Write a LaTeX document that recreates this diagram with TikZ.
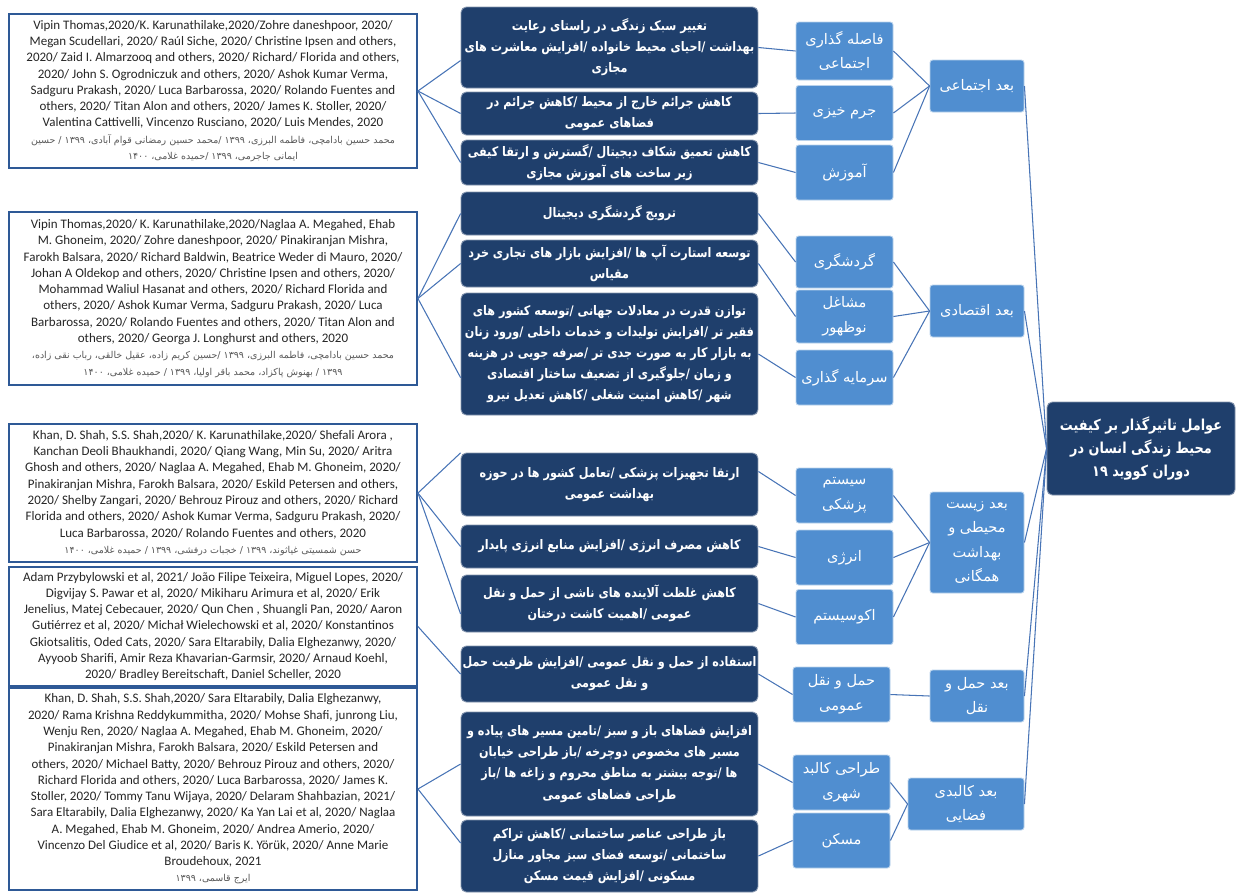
\documentclass[tikz,border=0pt]{standalone}
\usepackage{fontspec}
\setmainfont{Carlito}
\newfontfamily\farsi[Script=Arabic]{DejaVu Sans}
\newfontfamily\farsib[Script=Arabic, FakeStretch=0.85]{DejaVu Sans Bold}
\TeXXeTstate=1
\newcommand{\rl}[1]{{\farsi\beginR #1\endR}}
\newcommand{\rlb}[1]{{\farsib\beginR #1\endR}}
\newcommand{\rlref}[1]{{\farsi\fontsize{5.4}{9.25}\selectfont\color{black!65}\beginR #1\endR}}
\definecolor{navybox}{RGB}{31,63,108}
\definecolor{skybox}{RGB}{80,142,208}
\definecolor{refblue}{RGB}{46,89,150}
\definecolor{linkblue}{RGB}{72,116,182}

\begin{document}
\begin{tikzpicture}[x=0.02cm,y=-0.02cm]
		\tikzstyle{refbox}=[draw=refblue, line width=1.1pt, fill=white, minimum width=8.16cm, inner sep=0pt, align=center, text=black!85, font=\fontsize{7.4}{9.25}\selectfont];
		\tikzstyle{darkbox}=[fill=navybox, draw=navybox!55!white, line width=0.5pt, rounded corners=3pt, minimum width=5.94cm, inner sep=0pt, align=center, text=white, font=\fontsize{7.5}{12}\selectfont];
		\tikzstyle{lightbox}=[fill=skybox, draw=skybox!40!white, line width=0.5pt, rounded corners=1.5pt, minimum width=1.94cm, minimum height=1.1cm, inner sep=0pt, align=center, text=white, font=\fontsize{8.3}{14}\selectfont];
		\tikzstyle{dimbox}=[lightbox, minimum width=1.88cm, minimum height=1.04cm];
		\tikzstyle{link}=[draw=linkblue, line width=0.6pt];

		\useasboundingbox (0,0) rectangle (1240,894);

		% reference boxes
		\node[refbox, minimum height=3.08cm] (L1) at (213,91) {Vipin Thomas,2020/K. Karunathilake,2020/Zohre daneshpoor, 2020/\\
Megan Scudellari, 2020/ Raúl Siche, 2020/ Christine Ipsen and others,\\
2020/ Zaid I. Almarzooq and others, 2020/ Richard/ Florida and others,\\
2020/ John S. Ogrodniczuk and others, 2020/ Ashok Kumar Verma,\\
Sadguru Prakash, 2020/ Luca Barbarossa, 2020/ Rolando Fuentes and\\
others, 2020/ Titan Alon and others, 2020/ James K. Stoller, 2020/\\
Valentina Cattivelli, Vincenzo Rusciano, 2020/ Luis Mendes, 2020\\
\rlref{محمد حسین بادامچی، فاطمه البرزی، ۱۳۹۹ /محمد حسین رمضانی قوام آبادی، ۱۳۹۹ / حسین}\\
\rlref{ایمانی جاجرمی، ۱۳۹۹ /حمیده غلامی، ۱۴۰۰}};
		\node[refbox, minimum height=3.46cm] (L2) at (213,298.5) {Vipin Thomas,2020/ K. Karunathilake,2020/Naglaa A. Megahed, Ehab\\
M. Ghoneim, 2020/ Zohre daneshpoor, 2020/ Pinakiranjan Mishra,\\
Farokh Balsara, 2020/ Richard Baldwin, Beatrice Weder di Mauro, 2020/\\
Johan A Oldekop and others, 2020/ Christine Ipsen and others, 2020/\\
Mohammad Waliul Hasanat and others, 2020/ Richard Florida and\\
others, 2020/ Ashok Kumar Verma, Sadguru Prakash, 2020/ Luca\\
Barbarossa, 2020/ Rolando Fuentes and others, 2020/ Titan Alon and\\
others, 2020/ Georga J. Longhurst and others, 2020\\
\rlref{محمد حسین بادامچی، فاطمه البرزی، ۱۳۹۹ /حسین کریم زاده، عقیل خالقی، رباب نقی زاده،}\\
\rlref{۱۳۹۹ / بهنوش پاکزاد، محمد باقر اولیا، ۱۳۹۹ / حمیده غلامی، ۱۴۰۰}};
		\node[refbox, minimum height=2.76cm] (L3) at (213,493) {Khan, D. Shah, S.S. Shah,2020/ K. Karunathilake,2020/ Shefali Arora ,\\
Kanchan Deoli Bhaukhandi, 2020/ Qiang Wang, Min Su, 2020/ Aritra\\
Ghosh and others, 2020/ Naglaa A. Megahed, Ehab M. Ghoneim, 2020/\\
Pinakiranjan Mishra, Farokh Balsara, 2020/ Eskild Petersen and others,\\
2020/ Shelby Zangari, 2020/ Behrouz Pirouz and others, 2020/ Richard\\
Florida and others, 2020/ Ashok Kumar Verma, Sadguru Prakash, 2020/\\
Luca Barbarossa, 2020/ Rolando Fuentes and others, 2020\\
\rlref{حسن شمسیتی غیاثوند، ۱۳۹۹ / خجبات درفشی، ۱۳۹۹ / حمیده غلامی، ۱۴۰۰}};
		\node[refbox, minimum height=2.38cm] (L4) at (213,626.5) {Adam Przybylowski et al, 2021/ João Filipe Teixeira, Miguel Lopes, 2020/\\
Digvijay S. Pawar et al, 2020/ Mikiharu Arimura et al, 2020/ Erik\\
Jenelius, Matej Cebecauer, 2020/ Qun Chen , Shuangli Pan, 2020/ Aaron\\
Gutiérrez et al, 2020/ Michał Wielechowski et al, 2020/ Konstantinos\\
Gkiotsalitis, Oded Cats, 2020/ Sara Eltarabily, Dalia Elghezanwy, 2020/\\
Ayyoob Sharifi, Amir Reza Khavarian-Garmsir, 2020/ Arnaud Koehl,\\
2020/ Bradley Bereitschaft, Daniel Scheller, 2020};
		\node[refbox, minimum height=4.04cm] (L5) at (213,789) {Khan, D. Shah, S.S. Shah,2020/ Sara Eltarabily, Dalia Elghezanwy,\\
2020/ Rama Krishna Reddykummitha, 2020/ Mohse Shafi, junrong Liu,\\
Wenju Ren, 2020/ Naglaa A. Megahed, Ehab M. Ghoneim, 2020/\\
Pinakiranjan Mishra, Farokh Balsara, 2020/ Eskild Petersen and\\
others, 2020/ Michael Batty, 2020/ Behrouz Pirouz and others, 2020/\\
Richard Florida and others, 2020/ Luca Barbarossa, 2020/ James K.\\
Stoller, 2020/ Tommy Tanu Wijaya, 2020/ Delaram Shahbazian, 2021/\\
Sara Eltarabily, Dalia Elghezanwy, 2020/ Ka Yan Lai et al, 2020/ Naglaa\\
A. Megahed, Ehab M. Ghoneim, 2020/ Andrea Amerio, 2020/\\
Vincenzo Del Giudice et al, 2020/ Baris K. Yörük, 2020/ Anne Marie\\
Broudehoux, 2021\\
\rlref{ایرج قاسمی، ۱۳۹۹}};

		% effects
		\node[darkbox, minimum height=1.62cm] (M1) at (609.5,47.5) {\rlb{تغییر سبک زندگی در راستای رعایت}\\ \rlb{بهداشت /احیای محیط خانواده /افزایش معاشرت های}\\ \rlb{مجازی}};
		\node[darkbox, minimum height=0.86cm] (M2) at (609.5,113.5) {\rlb{کاهش جرائم خارج از محیط /کاهش جرائم در}\\ \rlb{فضاهای عمومی}};
		\node[darkbox, minimum height=0.90cm] (M3) at (609.5,162.5) {\rlb{کاهش تعمیق شکاف دیجیتال /گسترش و ارتقا کیفی}\\ \rlb{زیر ساخت های آموزش مجازی}};
		\node[darkbox, minimum height=0.86cm] (M4) at (609.5,213.5) {\rlb{ترویج گردشگری دیجیتال}};
		\node[darkbox, minimum height=0.94cm] (M5) at (609.5,263.5) {\rlb{توسعه استارت آپ ها /افزایش بازار های تجاری خرد}\\ \rlb{مقیاس}};
		\node[darkbox, minimum height=2.44cm] (M6) at (609.5,354) {\rlb{توازن قدرت در معادلات جهانی /توسعه کشور های}\\ \rlb{فقیر تر /افزایش تولیدات و خدمات داخلی /ورود زنان}\\ \rlb{به بازار کار به صورت جدی تر /صرفه جویی در هزینه}\\ \rlb{و زمان /جلوگیری از تضعیف ساختار اقتصادی}\\ \rlb{شهر /کاهش امنیت شغلی /کاهش تعدیل نیرو}};
		\node[darkbox, minimum height=1.26cm] (M7) at (609.5,484.5) {\rlb{ارتقا تجهیزات پزشکی /تعامل کشور ها در حوزه}\\ \rlb{بهداشت عمومی}};
		\node[darkbox, minimum height=0.86cm] (M8) at (609.5,546.5) {\rlb{کاهش مصرف انرژی /افزایش منابع انرژی پایدار}};
		\node[darkbox, minimum height=1.14cm] (M9) at (609.5,603.5) {\rlb{کاهش غلظت آلاینده های ناشی از حمل و نقل}\\ \rlb{عمومی /اهمیت کاشت درختان}};
		\node[darkbox, minimum height=1.12cm] (M10) at (609.5,674) {\rlb{استفاده از حمل و نقل عمومی /افزایش ظرفیت حمل}\\ \rlb{و نقل عمومی}};
		\node[darkbox, minimum height=2.08cm] (M11) at (609.5,764) {\rlb{افزایش فضاهای باز و سبز /تامین مسیر های پیاده و}\\ \rlb{مسیر های مخصوص دوچرخه /باز طراحی خیابان}\\ \rlb{ها /توجه بیشتر به مناطق محروم و زاغه ها /باز}\\ \rlb{طراحی فضاهای عمومی}};
		\node[darkbox, minimum height=1.44cm] (M12) at (609.5,856) {\rlb{باز طراحی عناصر ساختمانی /کاهش تراکم}\\ \rlb{ساختمانی /توسعه فضای سبز مجاور منازل}\\ \rlb{مسکونی /افزایش قیمت مسکن}};

		% factors
		\node[lightbox, minimum height=1.16cm] (S1) at (844.5,51) {\rl{فاصله گذاری}\\ \rl{اجتماعی}};
		\node[lightbox] (S2) at (844.5,113) {\rl{جرم خیزی}};
		\node[lightbox] (S3) at (844.5,172.5) {\rl{آموزش}};
		\node[lightbox, minimum height=1.04cm] (S4) at (844.5,262) {\rl{گردشگری}};
		\node[lightbox, minimum height=1.06cm] (S5) at (844.5,316.5) {\rl{مشاغل}\\ \rl{نوظهور}};
		\node[lightbox] (S6) at (844.5,377.5) {\rl{سرمایه گذاری}};
		\node[lightbox] (S7) at (844.5,495.5) {\rl{سیستم}\\ \rl{پزشکی}};
		\node[lightbox] (S8) at (844.5,557.5) {\rl{انرژی}};
		\node[lightbox] (S9) at (844.5,617) {\rl{اکوسیستم}};
		\node[lightbox] (S10) at (841.5,694.5) {\rl{حمل و نقل}\\ \rl{عمومی}};
		\node[lightbox] (S11) at (841.5,782.5) {\rl{طراحی کالبد}\\ \rl{شهری}};
		\node[lightbox] (S12) at (841.5,840.5) {\rl{مسکن}};

		% dimensions
		\node[dimbox] (D1) at (977,86) {\rl{بعد اجتماعی}};
		\node[dimbox] (D2) at (977,311) {\rl{بعد اقتصادی}};
		\node[dimbox, minimum height=2.02cm] (D3) at (977,542.5) {\rl{بعد زیست}\\ \rl{محیطی و}\\ \rl{بهداشت}\\ \rl{همگانی}};
		\node[dimbox] (D4) at (977,696) {\rl{بعد حمل و}\\ \rl{نقل}};
		\node[dimbox, minimum width=2.32cm] (D5) at (966,804) {\rl{بعد کالبدی}\\ \rl{فضایی}};

		\node[darkbox, minimum width=3.76cm, minimum height=1.86cm, font=\fontsize{8.6}{13}\selectfont] (R) at (1141,448.5) {\rlb{عوامل تاثیرگذار بر کیفیت}\\ \rlb{محیط زندگی انسان در}\\ \rlb{دوران کووید ۱۹}};

		\draw[link] (L1.east) to (M1.185) ;
		\draw[link] (L1.east) to (M2.west) ;
		\draw[link] (L1.east) to (M3.west) ;
		\draw[link] (L2.east) to (M4.west) ;
		\draw[link] (L2.east) to (M5.west) ;
		\draw[link] (L2.east) to (M6.189) ;
		\draw[link] (L3.east) to (M7.168) ;
		\draw[link] (L3.east) to (M8.west) ;
		\draw[link] (L3.east) to (M9.184) ;
		\draw[link] (L4.east) to (M10.west) ;
		\draw[link] (L5.east) to (M11.west) ;
		\draw[link] (L5.east) to (M12.175) ;

		\draw[link] (M1.east) to (S1.west) ;
		\draw[link] (M2.east) to (S2.west) ;
		\draw[link] (M3.east) to (S3.west) ;
		\draw[link] (M4.east) to (S4.west) ;
		\draw[link] (M5.east) to (S5.west) ;
		\draw[link] (M6.east) to (S6.west) ;
		\draw[link] (M7.5) to (S7.west) ;
		\draw[link] (M8.east) to (S8.west) ;
		\draw[link] (M9.east) to (S9.west) ;
		\draw[link] (M10.east) to (S10.west) ;
		\draw[link] (M11.east) to (S11.west) ;
		\draw[link] (M12.east) to (S12.west) ;

		\draw[link] (S1.east) to (D1.west) ;
		\draw[link] (S2.east) to (D1.west) ;
		\draw[link] (S3.east) to (D1.west) ;
		\draw[link] (S4.east) to (D2.west) ;
		\draw[link] (S5.east) to (D2.west) ;
		\draw[link] (S6.east) to (D2.west) ;
		\draw[link] (S7.east) to (D3.west) ;
		\draw[link] (S8.east) to (D3.west) ;
		\draw[link] (S9.east) to (D3.west) ;
		\draw[link] (S10.east) to (D4.west) ;
		\draw[link] (S11.east) to (D5.west) ;
		\draw[link] (S12.east) to (D5.west) ;

		\draw[link] (D1.east) to (R.west) ;
		\draw[link] (D2.east) to (R.west) ;
		\draw[link] (D3.east) to (R.west) ;
		\draw[link] (D4.east) to (R.west) ;
		\draw[link] (D5.east) to (R.west) ;
        \end{tikzpicture}
\end{document}
